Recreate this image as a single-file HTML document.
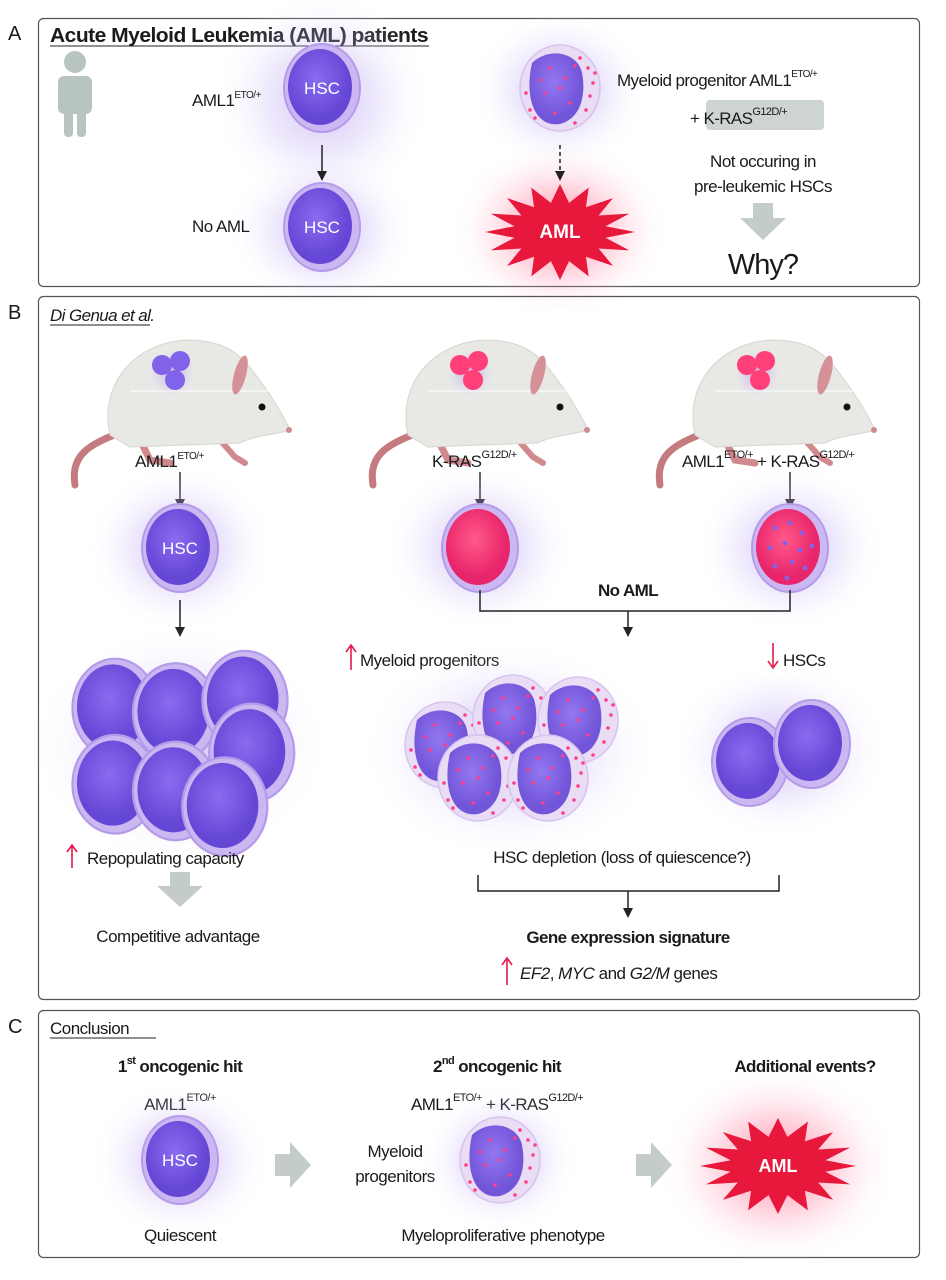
<!DOCTYPE html>
<html><head><meta charset="utf-8"><style>
html,body{margin:0;padding:0;background:#fff}
svg{display:block}
text{font-family:"Liberation Sans",sans-serif;fill:#1a1a1a}
</style></head><body>
<svg width="946" height="1280" viewBox="0 0 946 1280" xmlns="http://www.w3.org/2000/svg">
<defs>
<radialGradient id="gP"><stop offset="0" stop-color="#a98cf0" stop-opacity=".55"/><stop offset=".5" stop-color="#c6b4f5" stop-opacity=".3"/><stop offset="1" stop-color="#fff" stop-opacity="0"/></radialGradient>
<radialGradient id="gR"><stop offset="0" stop-color="#ff2a5a" stop-opacity=".6"/><stop offset=".5" stop-color="#ff7fa0" stop-opacity=".3"/><stop offset="1" stop-color="#fff" stop-opacity="0"/></radialGradient>
<radialGradient id="nuc" cx=".45" cy=".4"><stop offset="0" stop-color="#8a6cf0"/><stop offset="1" stop-color="#6547d6"/></radialGradient>
<radialGradient id="pnk" cx=".45" cy=".4"><stop offset="0" stop-color="#ff5a8a"/><stop offset="1" stop-color="#e8246a"/></radialGradient>
<marker id="ah" markerWidth="10" markerHeight="10" refX="5" refY="5" orient="auto" markerUnits="userSpaceOnUse"><path d="M0,0 L10,5 L0,10 Z" fill="#222"/></marker>
<g id="cell"><ellipse cx="0" cy="0" rx="38" ry="44" fill="#cbb8f2" stroke="#b49bea" stroke-width="2"/><ellipse cx="-2" cy="-1" rx="32" ry="38" fill="url(#nuc)"/></g>
<g id="pcell"><ellipse cx="0" cy="0" rx="38" ry="44" fill="#cbb8f2" stroke="#b49bea" stroke-width="2"/><ellipse cx="-2" cy="-1" rx="32" ry="38" fill="url(#pnk)"/></g>
<g id="dcell"><ellipse cx="0" cy="0" rx="38" ry="44" fill="#cbb8f2" stroke="#b49bea" stroke-width="2"/><ellipse cx="-2" cy="-1" rx="32" ry="38" fill="url(#pnk)"/>
<g fill="#8a5fe0"><circle cx="-15" cy="-20" r="2.5"/><circle cx="0" cy="-25" r="2.5"/><circle cx="12" cy="-15" r="2.5"/><circle cx="-20" cy="0" r="2.5"/><circle cx="-5" cy="-5" r="2.5"/><circle cx="10" cy="2" r="2.5"/><circle cx="22" cy="-2" r="2.5"/><circle cx="-15" cy="18" r="2.5"/><circle cx="2" cy="14" r="2.5"/><circle cx="15" cy="20" r="2.5"/><circle cx="-3" cy="30" r="2.5"/></g></g>
<g id="prog"><ellipse cx="0" cy="0" rx="40" ry="43" fill="#e9dcf5" stroke="#d7c3ef" stroke-width="1.5"/><path d="M-28,-25 C-10,-42 18,-35 22,-15 C26,5 22,30 0,36 C-25,40 -36,10 -28,-25Z" fill="url(#nuc)" opacity=".9"/>
<g fill="#ff3d8a"><circle cx="20" cy="-30" r="1.8"/><circle cx="28" cy="-20" r="1.8"/><circle cx="33" cy="-5" r="1.8"/><circle cx="30" cy="8" r="1.8"/><circle cx="26" cy="22" r="1.8"/><circle cx="-30" cy="22" r="1.8"/><circle cx="-34" cy="5" r="1.8"/><circle cx="-10" cy="-20" r="1.8"/><circle cx="5" cy="-10" r="1.8"/><circle cx="-15" cy="5" r="1.8"/><circle cx="10" cy="15" r="1.8"/><circle cx="-5" cy="25" r="1.8"/><circle cx="15" cy="-22" r="1.8"/><circle cx="-20" cy="-8" r="1.8"/><circle cx="0" cy="0" r="1.8"/><circle cx="-25" cy="30" r="1.8"/><circle cx="15" cy="35" r="1.8"/><circle cx="35" cy="-15" r="1.8"/></g></g>
<path id="star" d="M1,0 .608,.121 .924,.383 .515,.345 .707,.707 .345,.515 .383,.924 .121,.608 0,1 -.121,.608 -.383,.924 -.345,.515 -.707,.707 -.515,.345 -.924,.383 -.608,.121 -1,0 -.608,-.121 -.924,-.383 -.515,-.345 -.707,-.707 -.345,-.515 -.383,-.924 -.121,-.608 0,-1 .121,-.608 .383,-.924 .345,-.515 .707,-.707 .515,-.345 .924,-.383 .608,-.121Z" fill="#e8183c"/>
<g id="mouse">
<path d="M44,100 C20,110 0,120 5,150" stroke="#c47a7e" stroke-width="7" fill="none" stroke-linecap="round"/>
<path d="M70,105 L80,125 L100,128" stroke="#d08a8e" stroke-width="7" fill="none" stroke-linecap="round"/>
<path d="M150,105 L165,122 L175,128" stroke="#d08a8e" stroke-width="6" fill="none" stroke-linecap="round"/>
<path d="M40,100 C28,45 70,5 120,5 C150,6 165,15 178,30 C198,55 212,78 220,95 C205,100 185,100 170,108 L60,112 Z" fill="#e8e8e4" stroke="#d6d6d0"/>
<path d="M60,56 L220,56" stroke="#fff" stroke-width="1"/>
<ellipse cx="170" cy="40" rx="6" ry="20" fill="#d59098" transform="rotate(15 170 40)"/>
<circle cx="192" cy="72" r="3.5" fill="#111"/>
<circle cx="219" cy="95" r="3" fill="#d08a8e"/>
</g>
</defs>

<!-- Panel A -->
<rect x="38.5" y="18.5" width="881" height="268" rx="5" fill="none" stroke="#555" stroke-width="1.2"/>
<text x="8" y="40" font-size="20">A</text>
<text x="50" y="42" font-size="20" font-weight="bold" letter-spacing="-0.5" textLength="378" lengthAdjust="spacingAndGlyphs">Acute Myeloid Leukemia (AML) patients</text>
<line x1="50" y1="46" x2="429" y2="46" stroke="#222" stroke-width="1"/>
<g fill="#b8c4c2"><circle cx="75" cy="62" r="11"/><rect x="58" y="76" width="34" height="38" rx="6"/><rect x="64" y="105" width="9" height="32" rx="4"/><rect x="77" y="105" width="9" height="32" rx="4"/></g>
<ellipse cx="322" cy="100" rx="110" ry="110" fill="url(#gP)"/>
<ellipse cx="322" cy="230" rx="95" ry="80" fill="url(#gP)"/>
<ellipse cx="560" cy="90" rx="90" ry="80" fill="url(#gP)"/>
<ellipse cx="560" cy="230" rx="110" ry="90" fill="url(#gR)"/>
<use href="#cell" x="322" y="88"/>
<text x="322" y="94" font-size="17" text-anchor="middle" style="fill:#fff">HSC</text>
<use href="#cell" x="322" y="227"/>
<text x="322" y="233" font-size="17" text-anchor="middle" style="fill:#fff">HSC</text>
<line x1="322" y1="145" x2="322" y2="176" stroke="#222" stroke-width="1.5" marker-end="url(#ah)"/>
<text x="192" y="106" font-size="17" letter-spacing="-0.5">AML1<tspan font-size="10" dy="-8">ETO/+</tspan></text>
<text x="192" y="232" font-size="17" letter-spacing="-0.5">No AML</text>
<use href="#prog" x="560" y="88"/>
<line x1="560" y1="145" x2="560" y2="176" stroke="#222" stroke-width="1.5" stroke-dasharray="4,3" marker-end="url(#ah)"/>
<use href="#star" transform="translate(560,232) scale(75,48)"/>
<text x="560" y="238" font-size="19" font-weight="bold" text-anchor="middle" style="fill:#fff">AML</text>
<text x="617" y="86" font-size="17" letter-spacing="-0.6">Myeloid progenitor AML1<tspan font-size="10" dy="-9">ETO/+</tspan></text>
<rect x="706" y="100" width="118" height="30" rx="4" fill="#cdd4d3"/>
<text x="690" y="124" font-size="17" letter-spacing="-0.6">+ K-RAS<tspan font-size="11" dy="-9">G12D/+</tspan></text>
<text x="763" y="167" font-size="17" text-anchor="middle" letter-spacing="-0.5">Not occuring in</text>
<text x="763" y="192" font-size="17" text-anchor="middle" letter-spacing="-0.5">pre-leukemic HSCs</text>
<path d="M753,203 H773 V218 H786 L763,240 L740,218 H753 Z" fill="#c3cccb"/>
<text x="763" y="274" font-size="29" text-anchor="middle" letter-spacing="-1">Why?</text>

<!-- Panel B -->
<rect x="38.5" y="296.5" width="881" height="703" rx="5" fill="none" stroke="#555" stroke-width="1.2"/>
<text x="8" y="319" font-size="20">B</text>
<text x="50" y="321" font-size="17" font-style="italic" letter-spacing="-0.6">Di Genua et al.</text>
<line x1="50" y1="325" x2="150" y2="325" stroke="#222"/>
<use href="#mouse" x="70" y="335"/>
<use href="#mouse" x="368" y="335"/>
<use href="#mouse" x="655" y="335"/>
<g><ellipse cx="172" cy="373" rx="28" ry="28" fill="url(#gP)"/><circle cx="162" cy="365" r="10" fill="#8063e8"/><circle cx="180" cy="361" r="10" fill="#8063e8"/><circle cx="175" cy="380" r="10" fill="#8063e8"/></g>
<g><ellipse cx="470" cy="373" rx="28" ry="28" fill="url(#gP)"/><circle cx="460" cy="365" r="10" fill="#ff3f78"/><circle cx="478" cy="361" r="10" fill="#ff3f78"/><circle cx="473" cy="380" r="10" fill="#ff3f78"/></g>
<g><ellipse cx="757" cy="373" rx="28" ry="28" fill="url(#gP)"/><circle cx="747" cy="365" r="10" fill="#ff3f78"/><circle cx="765" cy="361" r="10" fill="#ff3f78"/><circle cx="760" cy="380" r="10" fill="#ff3f78"/></g>
<text x="135" y="467" font-size="17" letter-spacing="-0.5">AML1<tspan font-size="10" dy="-8">ETO/+</tspan></text>
<text x="432" y="467" font-size="17" letter-spacing="-0.5">K-RAS<tspan font-size="11" dy="-9">G12D/+</tspan></text>
<text x="682" y="467" font-size="17" letter-spacing="-0.6">AML1<tspan font-size="11" dy="-9">ETO/+</tspan><tspan dy="9"> + K-RAS</tspan><tspan font-size="11" dy="-9">G12D/+</tspan></text>
<line x1="180" y1="472" x2="180" y2="504" stroke="#222" stroke-width="1.5" marker-end="url(#ah)"/>
<line x1="480" y1="472" x2="480" y2="504" stroke="#222" stroke-width="1.5" marker-end="url(#ah)"/>
<line x1="790" y1="472" x2="790" y2="504" stroke="#222" stroke-width="1.5" marker-end="url(#ah)"/>
<ellipse cx="180" cy="548" rx="95" ry="85" fill="url(#gP)"/>
<ellipse cx="480" cy="548" rx="95" ry="85" fill="url(#gP)"/>
<ellipse cx="790" cy="548" rx="95" ry="85" fill="url(#gP)"/>
<use href="#cell" x="180" y="548"/>
<text x="180" y="554" font-size="17" text-anchor="middle" style="fill:#fff">HSC</text>
<use href="#pcell" x="480" y="548"/>
<use href="#dcell" x="790" y="548"/>
<line x1="180" y1="600" x2="180" y2="632" stroke="#222" stroke-width="1.5" marker-end="url(#ah)"/>
<path d="M480,590 V611 H790 V590" fill="none" stroke="#222" stroke-width="1.5"/>
<line x1="628" y1="611" x2="628" y2="632" stroke="#222" stroke-width="1.5" marker-end="url(#ah)"/>
<text x="628" y="596" font-size="17" font-weight="bold" text-anchor="middle" letter-spacing="-0.6">No AML</text>
<path d="M351,670 V646 M346,652 L351,645 L356,652" stroke="#e5194a" stroke-width="1.6" fill="none"/>
<text x="360" y="666" font-size="17" letter-spacing="-0.5">Myeloid progenitors</text>
<path d="M773,643 V668 M768,661 L773,668 L778,661" stroke="#e5194a" stroke-width="1.6" fill="none"/>
<text x="783" y="666" font-size="17" letter-spacing="-0.5">HSCs</text>
<!-- clusters -->
<ellipse cx="180" cy="745" rx="150" ry="120" fill="url(#gP)"/>
<g transform="translate(180,745) scale(1.12) translate(-180,-745)">
<use href="#cell" x="122" y="712"/><use href="#cell" x="176" y="716"/><use href="#cell" x="238" y="705"/>
<use href="#cell" x="122" y="780"/><use href="#cell" x="176" y="786"/><use href="#cell" x="244" y="752"/><use href="#cell" x="220" y="800"/>
</g>
<ellipse cx="510" cy="750" rx="150" ry="110" fill="url(#gP)"/>
<use href="#prog" x="445" y="745"/><use href="#prog" x="513" y="718"/><use href="#prog" x="578" y="720"/>
<use href="#prog" x="478" y="778"/><use href="#prog" x="548" y="778"/>
<ellipse cx="780" cy="750" rx="110" ry="90" fill="url(#gP)"/>
<use href="#cell" x="750" y="762"/><use href="#cell" x="812" y="744"/>
<path d="M72,868 V846 M67,852 L72,845 L77,852" stroke="#e5194a" stroke-width="1.6" fill="none"/>
<text x="87" y="864" font-size="17" letter-spacing="-0.5">Repopulating capacity</text>
<path d="M170,872 H190 V886 H203 L180,907 L157,886 H170 Z" fill="#c3cccb"/>
<text x="178" y="942" font-size="17" text-anchor="middle" letter-spacing="-0.5">Competitive advantage</text>
<text x="622" y="863" font-size="17" text-anchor="middle" letter-spacing="-0.5">HSC depletion (loss of quiescence?)</text>
<path d="M478,875 V891 H779 V875" fill="none" stroke="#222" stroke-width="1.5"/>
<line x1="628" y1="891" x2="628" y2="913" stroke="#222" stroke-width="1.5" marker-end="url(#ah)"/>
<text x="628" y="943" font-size="17" font-weight="bold" text-anchor="middle" letter-spacing="-0.6">Gene expression signature</text>
<path d="M507,985 V958 M502,965 L507,958 L512,965" stroke="#e5194a" stroke-width="1.6" fill="none"/>
<text x="520" y="979" font-size="17" letter-spacing="-0.5"><tspan font-style="italic">EF2</tspan>, <tspan font-style="italic">MYC</tspan> and <tspan font-style="italic">G2/M</tspan> genes</text>

<!-- Panel C -->
<rect x="38.5" y="1010.5" width="881" height="247" rx="5" fill="none" stroke="#555" stroke-width="1.2"/>
<text x="8" y="1033" font-size="20">C</text>
<text x="50" y="1034" font-size="17" letter-spacing="-0.5">Conclusion</text>
<line x1="50" y1="1038" x2="156" y2="1038" stroke="#222"/>
<text x="180" y="1072" font-size="17" font-weight="bold" text-anchor="middle" letter-spacing="-0.6">1<tspan font-size="11" dy="-8">st</tspan><tspan dy="8"> oncogenic hit</tspan></text>
<text x="180" y="1110" font-size="17" text-anchor="middle" letter-spacing="-0.5">AML1<tspan font-size="11" dy="-9">ETO/+</tspan></text>
<ellipse cx="180" cy="1160" rx="90" ry="80" fill="url(#gP)"/>
<use href="#cell" x="180" y="1160"/>
<text x="180" y="1166" font-size="17" text-anchor="middle" style="fill:#fff">HSC</text>
<text x="180" y="1241" font-size="17" text-anchor="middle" letter-spacing="-0.5">Quiescent</text>
<path d="M275,1154 H290 V1142 L311,1165 L290,1188 V1176 H275 Z" fill="#c3cccb"/>
<text x="497" y="1072" font-size="17" font-weight="bold" text-anchor="middle" letter-spacing="-0.6">2<tspan font-size="11" dy="-8">nd</tspan><tspan dy="8"> oncogenic hit</tspan></text>
<text x="497" y="1110" font-size="17" text-anchor="middle" letter-spacing="-0.6">AML1<tspan font-size="11" dy="-9">ETO/+</tspan><tspan dy="9"> + K-RAS</tspan><tspan font-size="11" dy="-9">G12D/+</tspan></text>
<text x="395" y="1157" font-size="17" text-anchor="middle" letter-spacing="-0.5">Myeloid</text>
<text x="395" y="1182" font-size="17" text-anchor="middle" letter-spacing="-0.5">progenitors</text>
<ellipse cx="500" cy="1160" rx="80" ry="75" fill="url(#gP)"/>
<use href="#prog" x="500" y="1160"/>
<text x="503" y="1241" font-size="17" text-anchor="middle" letter-spacing="-0.5">Myeloproliferative phenotype</text>
<path d="M636,1154 H651 V1142 L672,1165 L651,1188 V1176 H636 Z" fill="#c3cccb"/>
<text x="805" y="1072" font-size="17" font-weight="bold" text-anchor="middle" letter-spacing="-0.6">Additional events?</text>
<ellipse cx="778" cy="1165" rx="120" ry="100" fill="url(#gR)"/>
<use href="#star" transform="translate(778,1166) scale(78,48)"/>
<text x="778" y="1172" font-size="18" font-weight="bold" text-anchor="middle" style="fill:#fff">AML</text>
</svg>
</body></html>
